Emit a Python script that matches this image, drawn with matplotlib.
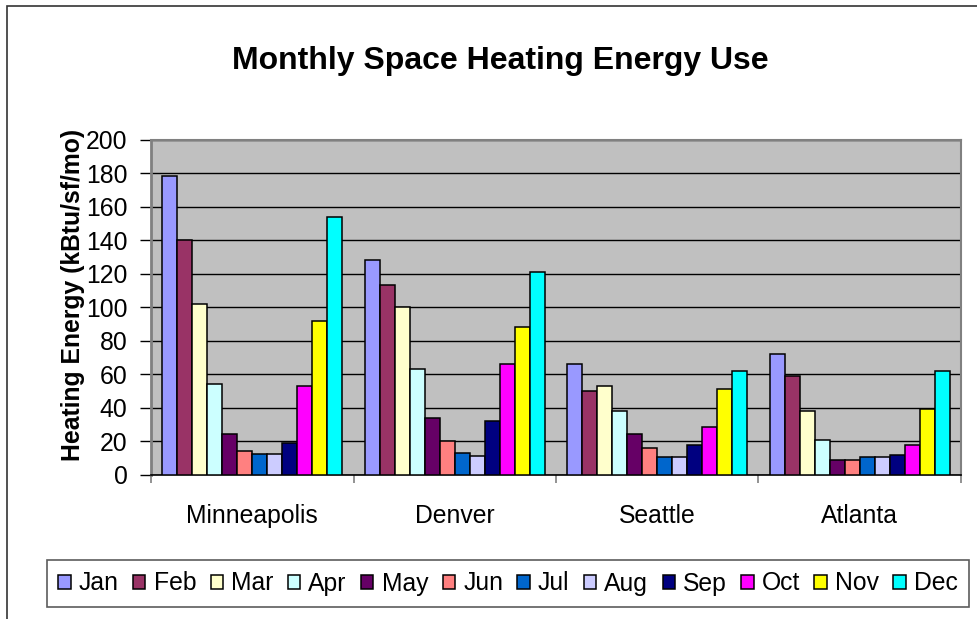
import numpy as np
import matplotlib
matplotlib.use("Agg")
from matplotlib import pyplot as plt
from matplotlib.patches import Rectangle

cities = ["Minneapolis", "Denver", "Seattle", "Atlanta"]
months = ["Jan", "Feb", "Mar", "Apr", "May", "Jun",
          "Jul", "Aug", "Sep", "Oct", "Nov", "Dec"]
minneapolis = [178, 140, 102, 54, 24, 14, 12.5, 12.5, 19, 53, 92, 154]
denver = [128, 113, 100, 63, 34, 20, 13, 11, 32, 66, 88, 121]
seattle = [66, 50, 53, 38, 24, 16, 10.5, 10.5, 18, 28.5, 51, 62]
atlanta = [72, 59, 38, 21, 9, 9, 10.5, 10.5, 12, 18, 39, 62]
colors = ["#9999FF", "#993366", "#FFFFCC", "#CCFFFF", "#660066", "#FF8080",
          "#0066CC", "#CCCCFF", "#000080", "#FF00FF", "#FFFF00", "#00FFFF"]

plt.rcParams["font.family"] = ["Liberation Sans", "DejaVu Sans"]

W, H = 978, 619
fig = plt.figure(figsize=(W / 100, H / 100), dpi=100)

# outer chart frame (right/bottom edges are cropped off)
fig.patches.append(Rectangle((7 / W, -0.1), 1.2, 1 - 6 / H + 0.1,
                             transform=fig.transFigure, fill=False,
                             edgecolor="#333333", linewidth=1.2))

ax = fig.add_axes([151 / W, 1 - 474.7 / H, 810 / W, 335.2 / H])
ax.set_facecolor("#C0C0C0")

data = np.array([minneapolis, denver, seattle, atlanta])
w = 1 / 13.5
idx = np.arange(len(cities))
for j, m in enumerate(months):
    ax.bar(idx + (0.75 + j + 0.5) * w, data[:, j], width=w, color=colors[j],
           edgecolor="black", linewidth=1.1, label=m, zorder=3)

ax.set_xlim(0, 4)
ax.set_ylim(0, 200)
ax.set_yticks(np.arange(0, 201, 20))
ax.yaxis.grid(True, color="black", linewidth=1.0, zorder=1)
ax.set_axisbelow(True)

ax.set_xticks(np.arange(0, 5))
ax.set_xticklabels([])
ax.set_xticks(idx + 0.5, minor=True)
ax.set_xticklabels(cities, minor=True)
ax.tick_params(axis="x", which="major", length=6, color="#808080", width=1.2)
ax.tick_params(axis="x", which="minor", length=0, pad=21, labelsize=17.8)
ax.tick_params(axis="y", length=8, width=1.0, color="black", pad=9, labelsize=17.8)

for s in ["top", "right"]:
    ax.spines[s].set_color("#808080")
    ax.spines[s].set_linewidth(1.5)
ax.spines["left"].set_color("#808080")
ax.spines["left"].set_linewidth(2)
ax.spines["bottom"].set_color("black")
ax.spines["bottom"].set_linewidth(1.2)

fig.text(500 / W, 1 - 61 / H, "Monthly Space Heating Energy Use",
         ha="center", va="center", fontsize=23, fontweight="bold")
fig.text(73 / W, 1 - 295 / H, "Heating Energy (kBtu/sf/mo)", rotation=90,
         ha="center", va="center", fontsize=17.8, fontweight="bold")

leg = fig.legend(loc="center", bbox_to_anchor=(508 / W, 1 - 583.5 / H),
                 ncol=12, fontsize=17.8, frameon=True, fancybox=False,
                 handlelength=0.5, handleheight=0.5, handletextpad=0.33,
                 columnspacing=0.58, borderpad=0.45)
leg.get_frame().set_edgecolor("#333333")
leg.get_frame().set_linewidth(1.2)

fig.savefig("out.png", dpi=100)
